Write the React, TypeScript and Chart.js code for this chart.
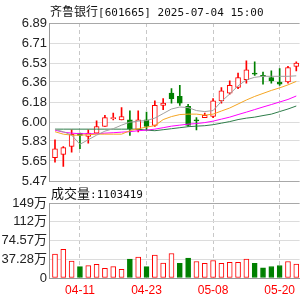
import React, { useEffect, useRef } from 'react';
import { Chart, registerables } from 'chart.js';

Chart.register(...registerables);

const titleName = '齐鲁银行';
const titleRest = '[601665] 2025-07-04 15:00';
const volumeName = '成交量';
const volumeRest = ':1103419';

const dates = [
  '04-08', '04-09', '04-10', '04-11', '04-14', '04-15', '04-16', '04-17', '04-18', '04-21',
  '04-22', '04-23', '04-24', '04-25', '04-28', '04-29', '04-30', '05-06', '05-07', '05-08',
  '05-09', '05-12', '05-13', '05-14', '05-15', '05-16', '05-19', '05-20', '05-21', '05-22',
];
const xTickLabels = ['04-11', '04-23', '05-08', '05-20'];

const opens = [5.68, 5.71, 5.78, 5.90, 5.87, 5.90, 5.96, 6.03, 6.02, 6.02, 5.93, 6.02, 5.97, 6.15, 6.26, 6.23, 6.14, 6.02, 6.04, 6.05, 6.19, 6.26, 6.31, 6.38, 6.44, 6.42, 6.40, 6.36, 6.36, 6.50];
const closes = [5.76, 5.77, 5.89, 5.88, 5.90, 5.96, 6.04, 6.04, 6.05, 5.94, 6.02, 5.96, 6.15, 6.17, 6.21, 6.17, 5.97, 6.01, 6.06, 6.19, 6.28, 6.33, 6.40, 6.47, 6.43, 6.41, 6.37, 6.34, 6.49, 6.53];
const highs = [5.84, 5.78, 5.93, 5.90, 5.93, 6.01, 6.06, 6.08, 6.13, 6.10, 6.10, 6.09, 6.19, 6.21, 6.30, 6.33, 6.16, 6.04, 6.08, 6.21, 6.31, 6.37, 6.44, 6.55, 6.54, 6.45, 6.46, 6.48, 6.50, 6.54];
const lows = [5.64, 5.60, 5.73, 5.76, 5.81, 5.90, 5.96, 6.02, 6.02, 5.88, 5.91, 5.93, 5.96, 6.11, 6.17, 6.15, 5.96, 5.93, 6.04, 6.04, 6.17, 6.25, 6.30, 6.35, 6.42, 6.34, 6.35, 6.33, 6.35, 6.46];

const ma5 = [5.933, 5.913, 5.882, 5.800, 5.841, 5.882, 5.918, 5.940, 5.972, 5.999, 6.008, 6.013, 6.035, 6.076, 6.117, 6.135, 6.130, 6.103, 6.094, 6.103, 6.185, 6.252, 6.325, 6.379, 6.402, 6.411, 6.411, 6.411, 6.411, 6.415];
const ma10 = [5.913, 5.891, 5.882, 5.882, 5.886, 5.891, 5.891, 5.891, 5.891, 5.922, 5.940, 5.954, 5.967, 6.022, 6.049, 6.067, 6.071, 6.071, 6.062, 6.071, 6.099, 6.126, 6.162, 6.198, 6.230, 6.257, 6.284, 6.307, 6.334, 6.365];
const ma20 = [5.927, 5.909, 5.900, 5.895, 5.895, 5.895, 5.900, 5.904, 5.909, 5.913, 5.922, 5.927, 5.936, 5.949, 5.963, 5.972, 5.981, 5.986, 5.995, 6.008, 6.026, 6.044, 6.067, 6.089, 6.112, 6.135, 6.157, 6.180, 6.203, 6.234];
const ma60 = [5.936, 5.936, 5.936, 5.936, 5.936, 5.936, 5.936, 5.936, 5.936, 5.936, 5.936, 5.927, 5.922, 5.931, 5.940, 5.949, 5.958, 5.963, 5.967, 5.976, 5.990, 6.004, 6.022, 6.035, 6.044, 6.058, 6.071, 6.094, 6.117, 6.144];

// volume in 万 (10,000 shares)
const volumes = [47.7, 57.1, 33.8, 22.5, 24.5, 27.2, 19.3, 22.5, 17.3, 37.8, 41.7, 22.5, 45.7, 29.8, 48.7, 29.2, 39.8, 32.8, 29.2, 34.8, 29.2, 31.2, 31.2, 37.4, 29.2, 20.3, 22.9, 24.9, 32.8, 27.8];

const priceTicks = [6.89, 6.71, 6.53, 6.36, 6.18, 6.0, 5.83, 5.65, 5.47];
const volumeTicks = [149, 112, 74.57, 37.28, 0];

const RED = '#ff0000';
const GREEN = '#008000';
const FONT = "'Liberation Sans', 'Noto Sans CJK SC', sans-serif";

export default function App() {
  const ref = useRef<HTMLCanvasElement>(null);

  useEffect(() => {
    const canvas = ref.current;
    if (!canvas) return;
    const idx = dates.map((_, i) => i);
    const candleUp = idx.map((i) => closes[i] >= opens[i]);
    const volUp = idx.map((i) => (i === 0 ? true : closes[i] >= closes[i - 1]));
    const pMin = Math.min(...priceTicks);
    const pMax = Math.max(...priceTicks);
    const vMax = Math.max(...volumeTicks);

    const fixW = (s: any) => {
      s.width = 49;
    };

    const line = (data: number[], color: string) => ({
      type: 'line' as const,
      data: data.map((v, i) => ({ x: i, y: v })),
      borderColor: color,
      borderWidth: 1,
      pointRadius: 0,
      tension: 0,
      yAxisID: 'y',
      order: 1,
    });

    const chart = new Chart(canvas, {
      type: 'bar',
      data: {
        datasets: [
          {
            type: 'bar',
            data: idx.map((i) => ({ x: i, y: [lows[i], highs[i]] })) as any,
            backgroundColor: idx.map((i) => (candleUp[i] ? RED : GREEN)),
            barThickness: 1,
            grouped: false,
            yAxisID: 'y',
            order: 4,
          } as any,
          {
            type: 'bar',
            data: idx.map((i) => ({ x: i, y: [opens[i], closes[i]] })) as any,
            backgroundColor: idx.map((i) => (candleUp[i] ? '#ffffff' : GREEN)),
            borderColor: idx.map((i) => (candleUp[i] ? RED : GREEN)),
            borderWidth: 1,
            borderSkipped: false,
            minBarLength: 1,
            barThickness: 5,
            grouped: false,
            yAxisID: 'y',
            order: 3,
          } as any,
          line(ma5, '#a0a0a0'),
          line(ma10, '#f5a623'),
          line(ma20, '#ff00ff'),
          line(ma60, '#2e7d4a'),
          {
            type: 'bar',
            data: idx.map((i) => ({ x: i, y: volumes[i] })) as any,
            backgroundColor: idx.map((i) => (volUp[i] ? '#ffffff' : GREEN)),
            borderColor: idx.map((i) => (volUp[i] ? RED : GREEN)),
            borderWidth: 1,
            borderSkipped: false,
            barThickness: 5,
            grouped: false,
            yAxisID: 'yv',
            order: 3,
          } as any,
        ],
      },
      options: {
        responsive: false,
        animation: false,
        devicePixelRatio: 1,
        layout: { padding: { top: 23, left: 0, right: 0, bottom: 0 } },
        plugins: { legend: { display: false }, tooltip: { enabled: false } },
        scales: {
          x: {
            type: 'linear',
            position: 'bottom',
            min: -0.72,
            max: 29.4,
            offset: false,
            afterFit: (s: any) => {
              s.height = 22;
            },
            afterBuildTicks: (s: any) => {
              s.ticks = xTickLabels.map((l) => ({ value: dates.indexOf(l) }));
            },
            ticks: {
              color: RED,
              font: { family: FONT, size: 12 },
              padding: 5,
              maxRotation: 0,
              autoSkip: false,
              callback: (v: any) => dates[Number(v)],
            },
            grid: { color: '#c8c8c8', drawTicks: false, offset: false },
            border: { display: true, color: '#999999', dash: [4, 3] },
          },
          y: {
            type: 'linear',
            position: 'left',
            stack: 'left',
            stackWeight: 158,
            weight: 3,
            min: pMin,
            max: pMax,
            afterFit: fixW,
            afterBuildTicks: (s: any) => {
              s.ticks = [...priceTicks].sort((a, b) => a - b).map((v) => ({ value: v }));
            },
            ticks: {
              color: '#222222',
              font: { family: FONT, size: 13 },
              padding: 2,
              autoSkip: false,
              callback: (v: any) => Number(v).toFixed(2),
            },
            grid: {
              drawTicks: false,
              color: (c: any) => (c.index === 0 || c.index === priceTicks.length - 1 ? '#a8a8a8' : '#dcdcdc'),
            },
            border: { display: true, color: '#999999' },
          },
          gap: {
            type: 'linear',
            position: 'left',
            stack: 'left',
            stackWeight: 22,
            weight: 2,
            afterFit: fixW,
            ticks: { display: false },
            grid: { display: false },
            border: { display: false },
          },
          yv: {
            type: 'linear',
            position: 'left',
            stack: 'left',
            stackWeight: 75,
            weight: 1,
            min: 0,
            max: vMax,
            afterFit: fixW,
            afterBuildTicks: (s: any) => {
              s.ticks = [...volumeTicks].sort((a, b) => a - b).map((v) => ({ value: v }));
            },
            ticks: {
              color: '#222222',
              font: { family: FONT, size: 13 },
              padding: 2,
              autoSkip: false,
              callback: (v: any) => (Number(v) === 0 ? '0' : `${v}万`),
            },
            grid: {
              drawTicks: false,
              color: (c: any) => (c.index === volumeTicks.length - 1 ? '#a8a8a8' : '#dcdcdc'),
            },
            border: { display: true, color: '#999999' },
          },
        } as any,
      },
    });
    return () => chart.destroy();
  }, []);

  const mono = "'DejaVu Sans Mono', 'Liberation Mono', monospace";
  const cjk = "'Noto Sans CJK SC', sans-serif";

  return (
    <div style={{ position: 'fixed', left: 0, top: 0, width: 300, height: 300, background: '#fff', overflow: 'hidden' }}>
      <canvas ref={ref} width={300} height={300} style={{ position: 'absolute', left: 0, top: 0, width: 300, height: 300 }} />
      <div style={{ position: 'absolute', left: 50, top: 3, lineHeight: '16px', whiteSpace: 'nowrap', color: '#111' }}>
        <span style={{ fontFamily: cjk, fontSize: 12 }}>{titleName}</span>
        <span style={{ fontFamily: mono, fontSize: 11 }}>{titleRest}</span>
      </div>
      <div style={{ position: 'absolute', left: 51, top: 185, lineHeight: '16px', whiteSpace: 'nowrap', color: '#111', background: '#fff', paddingRight: 1 }}>
        <span style={{ fontFamily: cjk, fontSize: 13 }}>{volumeName}</span>
        <span style={{ fontFamily: mono, fontSize: 11 }}>{volumeRest}</span>
      </div>
    </div>
  );
}
